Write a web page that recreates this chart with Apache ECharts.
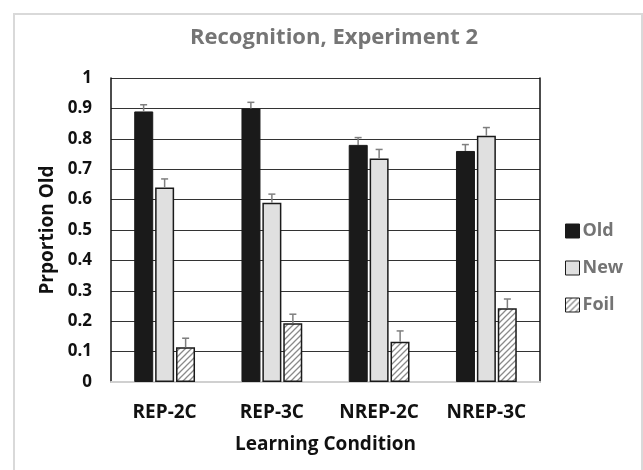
<!DOCTYPE html>
<html>
<head>
<meta charset="utf-8">
<script src="https://cdn.jsdelivr.net/npm/echarts@6/dist/echarts.min.js"></script>
<style>
  html, body { margin: 0; padding: 0; background: #fff; }
  #chart { width: 643px; height: 470px; }
</style>
</head>
<body>
<div id="chart"></div>
<script>
// data
const conditions = ['REP-2C', 'REP-3C', 'NREP-2C', 'NREP-3C']
const oldVals = [0.89, 0.90, 0.78, 0.76]
const newVals = [0.64, 0.59, 0.735, 0.81]
const foilVals = [0.114, 0.193, 0.132, 0.243]
const oldErr = [0.022, 0.02, 0.024, 0.021]
const newErr = [0.028, 0.028, 0.03, 0.027]
const foilErr = [0.03, 0.03, 0.036, 0.03]
const yTicks = [0, 0.1, 0.2, 0.3, 0.4, 0.5, 0.6, 0.7, 0.8, 0.9, 1]

const FONT = 'Open Sans'
const BAR_W = 19
const OFFSETS = [-21, 0, 21]

// hatch pattern for Foil
function hatch() {
  const c = document.createElement('canvas')
  c.width = 6
  c.height = 6
  const g = c.getContext('2d')
  g.fillStyle = '#fff'
  g.fillRect(0, 0, 6, 6)
  g.strokeStyle = '#8a8a8a'
  g.lineWidth = 1.3
  g.beginPath()
  g.moveTo(-1, 7); g.lineTo(7, -1)
  g.moveTo(-1, 1); g.lineTo(1, -1)
  g.moveTo(5, 7); g.lineTo(7, 5)
  g.stroke()
  return c
}

function errSeries(vals, errs, idx) {
  return {
    type: 'custom',
    z: 5,
    silent: true,
    data: vals.map((v, i) => [i, v, errs[i]]),
    renderItem(params, api) {
      const base = api.coord([api.value(0), api.value(1)])
      const top = api.coord([api.value(0), api.value(1) + api.value(2)])
      const x = base[0] + OFFSETS[idx]
      const st = { stroke: '#7f7f7f', lineWidth: 1.5 }
      return {
        type: 'group',
        children: [
          { type: 'line', shape: { x1: x, y1: base[1], x2: x, y2: top[1] }, style: st },
          { type: 'line', shape: { x1: x - 3.5, y1: top[1], x2: x + 3.5, y2: top[1] }, style: st }
        ]
      }
    }
  }
}

const myChart = echarts.init(document.getElementById('chart'))
const option = {
  backgroundColor: '#fff',
  animation: false,
  textStyle: { fontFamily: FONT },
  graphic: [
    {
      type: 'rect',
      shape: { x: 14, y: 14, width: 628, height: 480 },
      style: { fill: 'none', stroke: '#d9d9d9', lineWidth: 2 },
      silent: true
    }
  ],
  title: {
    text: 'Recognition, Experiment 2',
    left: 329,
    textAlign: 'center',
    top: 22,
    textStyle: { fontFamily: FONT, fontSize: 22, fontWeight: 'bold', color: '#757575' }
  },
  legend: {
    orient: 'vertical',
    left: 560,
    top: 217,
    itemWidth: 14,
    itemHeight: 14,
    itemGap: 19,
    icon: 'rect',
    itemStyle: { borderColor: '#1a1a1a', borderWidth: 1 },
    data: ['Old', 'New', 'Foil'],
    textStyle: { fontFamily: FONT, fontSize: 18, fontWeight: 'bold', color: '#747474', padding: [0, 0, 0, -2] }
  },
  grid: { left: 111, right: 103, top: 78, bottom: 88 },
  xAxis: {
    type: 'category',
    data: conditions,
    axisLine: { show: true, lineStyle: { color: '#d0d0d0', width: 2 } },
    axisTick: { show: false },
    axisLabel: { margin: 21, fontFamily: FONT, fontSize: 19, fontWeight: 'bold', color: '#111' },
    name: 'Learning Condition',
    nameLocation: 'middle',
    nameGap: 53,
    nameTextStyle: { fontFamily: FONT, fontSize: 19, fontWeight: 'bold', color: '#111' }
  },
  yAxis: [
    {
      type: 'value',
      min: 0,
      max: 1,
      interval: 0.1,
      axisLine: { show: true, lineStyle: { color: '#111', width: 1.5 } },
      axisTick: { show: false },
      splitLine: { lineStyle: { color: '#333', width: 1 } },
      axisLabel: {
        margin: 19,
        fontFamily: FONT,
        fontSize: 17,
        fontWeight: 'bold',
        color: '#111',
        formatter: v => String(yTicks[Math.round(v * 10)])
      },
      name: 'Prportion Old',
      nameLocation: 'middle',
      nameGap: 53,
      nameTextStyle: { fontFamily: FONT, fontSize: 19, fontWeight: 'bold', color: '#111' }
    },
    {
      type: 'value',
      position: 'right',
      min: 0,
      max: 1,
      interval: 0.1,
      axisLine: { show: true, lineStyle: { color: '#111', width: 1.5 } },
      axisTick: { show: false },
      axisLabel: { show: false },
      splitLine: { show: false }
    }
  ],
  series: [
    {
      name: 'Old',
      type: 'bar',
      barWidth: BAR_W,
      barGap: '10%',
      data: oldVals,
      itemStyle: { color: '#1a1a1a', borderColor: '#1a1a1a', borderWidth: 1 }
    },
    {
      name: 'New',
      type: 'bar',
      barWidth: BAR_W,
      barGap: '10%',
      data: newVals,
      itemStyle: { color: '#e0e0e0', borderColor: '#1a1a1a', borderWidth: 1.5 }
    },
    {
      name: 'Foil',
      type: 'bar',
      barWidth: BAR_W,
      barGap: '10%',
      data: foilVals,
      itemStyle: { color: { image: hatch(), repeat: 'repeat' }, borderColor: '#1a1a1a', borderWidth: 1.5 }
    },
    errSeries(oldVals, oldErr, 0),
    errSeries(newVals, newErr, 1),
    errSeries(foilVals, foilErr, 2)
  ]
}
myChart.setOption(option)
</script>
</body>
</html>
